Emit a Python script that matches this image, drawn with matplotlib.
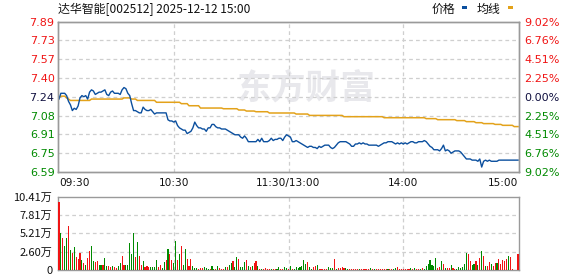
import numpy as np
import matplotlib
matplotlib.use("Agg")
import matplotlib.pyplot as plt
from matplotlib.patches import Rectangle

plt.rcParams['font.family'] = ['Noto Sans CJK SC', 'DejaVu Sans']

# ---------------- data ----------------
title = "达华智能[002512] 2025-12-12 15:00"
legend_labels = ["价格", "均线"]
watermark = "东方财富"
prev_close = 7.24
price_tick_labels = ["6.59", "6.75", "6.91", "7.08", "7.24", "7.40", "7.57", "7.73", "7.89"]
pct_values = [-9.02, -6.76, -4.51, -2.25, 0.00, 2.25, 4.51, 6.76, 9.02]
pct_tick_labels = ["9.02%", "6.76%", "4.51%", "2.25%", "0.00%", "2.25%", "4.51%", "6.76%", "9.02%"]
vol_max = 10.41
vol_tick_labels = ["0", "2.60万", "5.21万", "7.81万", "10.41万"]
time_labels = ["09:30", "10:30", "11:30/13:00", "14:00", "15:00"]
time_minutes = [0, 60, 120, 180, 240]

price = [
    7.22, 7.27, 7.27, 7.27, 7.25, 7.20, 7.17, 7.12, 7.14, 7.13,
    7.16, 7.23, 7.25, 7.24, 7.25, 7.22, 7.28, 7.30, 7.29, 7.26,
    7.27, 7.28, 7.28, 7.29, 7.30, 7.26, 7.25, 7.28, 7.29, 7.27,
    7.27, 7.27, 7.26, 7.30, 7.32, 7.31, 7.27, 7.25, 7.18, 7.12,
    7.12, 7.11, 7.10, 7.10, 7.15, 7.13, 7.12, 7.12, 7.13, 7.11,
    7.09, 7.10, 7.10, 7.10, 7.10, 7.10, 7.10, 7.04, 7.03, 7.03,
    7.02, 7.03, 6.99, 6.97, 6.96, 6.95, 6.95, 6.92, 6.93, 6.94,
    6.97, 7.02, 6.99, 6.97, 6.97, 6.96, 6.96, 6.94, 6.97, 6.97,
    7.00, 7.00, 6.98, 6.97, 6.97, 6.96, 6.96, 6.96, 6.95, 6.94,
    6.93, 6.92, 6.91, 6.91, 6.91, 6.89, 6.88, 6.90, 6.88, 6.85,
    6.85, 6.85, 6.85, 6.85, 6.87, 6.85, 6.88, 6.85, 6.85, 6.85,
    6.86, 6.88, 6.86, 6.87, 6.87, 6.88, 6.88, 6.86, 6.89, 6.91,
    6.90, 6.89, 6.85, 6.85, 6.86, 6.85, 6.84, 6.83, 6.82, 6.81,
    6.80, 6.81, 6.81, 6.80, 6.80, 6.79, 6.81, 6.80, 6.81, 6.82,
    6.82, 6.82, 6.80, 6.79, 6.80, 6.82, 6.84, 6.85, 6.85, 6.85,
    6.85, 6.84, 6.83, 6.81, 6.81, 6.83, 6.83, 6.84, 6.83, 6.84,
    6.83, 6.83, 6.82, 6.82, 6.82, 6.82, 6.82, 6.81, 6.82, 6.83,
    6.84, 6.84, 6.85, 6.85, 6.85, 6.84, 6.83, 6.84, 6.83, 6.84,
    6.83, 6.84, 6.83, 6.84, 6.85, 6.85, 6.84, 6.84, 6.85, 6.85,
    6.85, 6.86, 6.85, 6.83, 6.81, 6.80, 6.78, 6.78, 6.78, 6.77,
    6.79, 6.82, 6.77, 6.78, 6.77, 6.75, 6.76, 6.77, 6.77, 6.77,
    6.76, 6.74, 6.72, 6.70, 6.70, 6.70, 6.69, 6.69, 6.69, 6.68,
    6.70, 6.63, 6.68, 6.69, 6.68, 6.69, 6.68, 6.68, 6.68, 6.68,
    6.69, 6.69, 6.69, 6.69, 6.69, 6.69, 6.69, 6.69, 6.69, 6.69, 6.69,
]

avg_price = [
    7.230, 7.245, 7.245, 7.245, 7.230, 7.220, 7.208, 7.208, 7.208, 7.208,
    7.208, 7.208, 7.208, 7.208, 7.208, 7.208, 7.208, 7.220, 7.220, 7.220,
    7.220, 7.220, 7.220, 7.220, 7.220, 7.220, 7.220, 7.220, 7.220, 7.220,
    7.220, 7.220, 7.220, 7.220, 7.230, 7.230, 7.230, 7.230, 7.220, 7.220,
    7.220, 7.208, 7.208, 7.208, 7.208, 7.208, 7.208, 7.208, 7.208, 7.208,
    7.208, 7.192, 7.192, 7.192, 7.192, 7.192, 7.192, 7.192, 7.192, 7.192,
    7.192, 7.192, 7.192, 7.192, 7.180, 7.180, 7.180, 7.180, 7.162, 7.162,
    7.162, 7.162, 7.162, 7.162, 7.142, 7.142, 7.142, 7.142, 7.142, 7.142,
    7.142, 7.142, 7.142, 7.142, 7.142, 7.142, 7.136, 7.136, 7.136, 7.136,
    7.136, 7.136, 7.136, 7.136, 7.125, 7.125, 7.125, 7.125, 7.116, 7.116,
    7.116, 7.116, 7.116, 7.110, 7.110, 7.110, 7.110, 7.110, 7.110, 7.110,
    7.099, 7.099, 7.099, 7.099, 7.099, 7.099, 7.099, 7.099, 7.099, 7.099,
    7.099, 7.099, 7.099, 7.099, 7.090, 7.090, 7.090, 7.090, 7.090, 7.090,
    7.090, 7.078, 7.078, 7.078, 7.078, 7.078, 7.078, 7.078, 7.078, 7.078,
    7.078, 7.078, 7.078, 7.078, 7.078, 7.078, 7.078, 7.078, 7.078, 7.067,
    7.067, 7.067, 7.067, 7.067, 7.067, 7.067, 7.067, 7.067, 7.067, 7.067,
    7.067, 7.067, 7.067, 7.067, 7.067, 7.067, 7.067, 7.067, 7.067, 7.067,
    7.058, 7.058, 7.058, 7.058, 7.058, 7.058, 7.058, 7.058, 7.058, 7.058,
    7.058, 7.058, 7.058, 7.058, 7.058, 7.058, 7.058, 7.058, 7.058, 7.058,
    7.058, 7.058, 7.050, 7.050, 7.050, 7.050, 7.050, 7.050, 7.041, 7.041,
    7.041, 7.041, 7.041, 7.041, 7.041, 7.041, 7.041, 7.041, 7.033, 7.033,
    7.033, 7.033, 7.033, 7.024, 7.024, 7.024, 7.024, 7.024, 7.015, 7.015,
    7.015, 7.015, 7.007, 7.007, 7.007, 7.007, 7.007, 7.007, 7.000, 7.000,
    7.000, 7.000, 6.992, 6.992, 6.992, 6.992, 6.992, 6.992, 6.981, 6.981, 6.981,
]

# volume in 万 (one bar per minute)
volume = [
    9.66, 5.26, 4.55, 3.41, 4.55, 6.26, 2.84, 2.42, 3.27, 1.85,
    1.56, 2.42, 1.42, 1.00, 0.71, 1.71, 2.70, 3.41, 1.28, 1.14,
    1.28, 0.71, 0.71, 0.71, 1.71, 0.57, 0.57, 0.43, 0.57, 0.43,
    0.28, 0.57, 1.00, 1.99, 0.71, 0.71, 0.71, 3.84, 2.27, 5.26,
    1.85, 3.98, 1.99, 0.71, 1.28, 0.43, 0.57, 0.43, 0.43, 0.43,
    0.43, 1.42, 0.43, 0.71, 0.28, 1.14, 1.42, 2.99, 2.27, 1.42,
    1.00, 4.12, 1.42, 2.27, 3.41, 0.71, 2.99, 1.56, 0.57, 1.56,
    0.57, 0.28, 0.28, 0.14, 0.28, 0.28, 0.43, 0.28, 0.14,
    0.14, 0.57, 0.14, 0.14, 0.57, 0.28, 0.14, 0.14, 0.43, 0.43,
    0.71, 1.00, 1.28, 0.43, 1.85, 1.56, 0.43, 0.43, 1.14, 1.42,
    0.57, 0.43, 0.57, 1.00, 1.28, 0.57, 0.14, 0.14, 0.14, 0.28,
    0.14, 0.14, 0.14, 0.14, 0.14, 0.14, 0.43, 0.14, 0.14, 0.43,
    0.28, 0.14, 0.57, 0.14, 0.14, 0.43, 0.28, 0.43, 0.57, 1.42,
    0.85, 1.14, 0.43, 0.14, 0.43, 0.57, 0.71, 0.14, 0.14, 0.14,
    0.14, 0.14, 0.43, 0.28, 0.28, 1.56, 0.14, 0.28, 0.28, 0.43,
    0.28, 0.28, 0.14, 0.14, 0.14, 0.14, 0.14, 0.14, 0.14, 0.14,
    0.14, 0.14, 0.14, 0.14, 0.28, 0.14, 0.14, 0.14, 0.14, 0.14,
    0.14, 0.14, 0.14, 0.14, 0.14, 0.14, 0.14, 0.28, 0.43, 0.14,
    0.14, 0.14, 0.14,
    0.14, 0.14, 0.28, 0.14, 0.28, 0.14, 0.14, 0.14, 0.28, 0.14,
    0.57, 0.85, 1.42, 0.71, 0.57, 1.71, 0.28, 0.43, 1.28, 0.85,
    0.28, 0.28, 0.28, 0.71, 0.28, 0.14, 0.14, 0.43, 0.28, 0.43,
    0.85, 2.42, 2.27, 1.28, 0.71, 0.85, 1.28, 0.71, 1.71, 2.70,
    1.99, 0.57, 0.57, 1.14, 0.85, 0.57, 1.00, 1.00, 1.56, 0.85,
    1.42, 1.28, 1.56, 1.99, 1.85, 0.14,
    0.00, 0.00, 2.27,
]
# R = up (red), G = down (green)
volume_dir = (
    "RGRGGRGRGR" "RRGRGRRGGR" "RGGRGGRRGR" "RGGRRGGGGG"
    "RGRRGRRRGG" "GGRRGGRGRR" "GGRGRGGRRR" "GGGRRRGGG"
    "RGGRGRRRGR" "GGRGGRGGGR" "GRGRRGRGRR" "RRGRRGGRRG"
    "GRGRGGGGGG" "GRGGRRGRRR" "RRGGGRGRRR" "RGGRRRRRGR"
    "RRRRGRGRRR" "R" "RRGRRGGRRRR" "R"
    "RRGRGRRGRGGGGGGGRRGRGRRGRRGGGGGGRRGGRGRGRGRRGRRGRRRRRGRR"
    "RRR"
)

# ---------------- drawing ----------------
W, H = 578, 276
fig = plt.figure(figsize=(W / 100, H / 100), dpi=100)
fig.patch.set_facecolor("white")

ax = fig.add_axes([58 / W, 1 - 172 / H, 461 / W, 150.5 / H])
vax = fig.add_axes([58 / W, 1 - 270 / H, 461 / W, 73.5 / H])

blue = "#0b4f9e"
gold = "#e3a21a"
red = "#f01414"
green = "#008a00"
grid_c = "#cfcfcf"
spine_c = "#9a9a9a"
num_font = "DejaVu Sans"

minutes = np.arange(len(price))
pct = np.array(pct_values) / 100.0
price_tick_pos = prev_close * (1 + pct)
ylo, yhi = price_tick_pos[0], price_tick_pos[-1]

# watermark
ax.text(0.54, 0.56, watermark, transform=ax.transAxes, ha="center", va="center",
        fontsize=25, fontweight="bold", color="#e8e8ec", zorder=0.5)

for yv in price_tick_pos[1:-1]:
    ax.axhline(yv, color=grid_c, lw=0.9, ls=(0, (3, 2.5)), zorder=1)
for xv in time_minutes[1:-1]:
    ax.axvline(xv, color=grid_c, lw=0.9, ls=(0, (3, 2.5)), zorder=1)
    vax.axvline(xv, color=grid_c, lw=0.9, ls=(0, (3, 2.5)), zorder=1)

ax.plot(minutes, avg_price, color=gold, lw=1.1, zorder=3, solid_joinstyle="miter")
ax.plot(minutes, price, color=blue, lw=1.0, zorder=4)

ax.set_xlim(-0.5, 240.5)
ax.set_ylim(ylo, yhi)
ax.set_yticks(price_tick_pos)
ax.set_yticklabels(price_tick_labels, fontsize=8, family=num_font)
for lab, p in zip(ax.get_yticklabels(), pct_values):
    lab.set_color(red if p > 0 else (green if p < 0 else "#101040"))

ax.set_xticks(time_minutes)
ax.set_xticklabels(time_labels, fontsize=7.6, family=num_font, color="#111111")
xl = ax.get_xticklabels()
xl[0].set_ha("left")
xl[-1].set_ha("right")
ax.tick_params(axis="both", length=0)
ax.tick_params(axis="y", pad=2.5)
ax.tick_params(axis="x", pad=4)

rax = ax.twinx()
rax.set_ylim(ylo, yhi)
rax.set_yticks(price_tick_pos)
rax.set_yticklabels(pct_tick_labels, fontsize=8, family=num_font)
for lab, p in zip(rax.get_yticklabels(), pct_values):
    lab.set_color(red if p > 0 else (green if p < 0 else "#101040"))
rax.tick_params(axis="y", length=0, pad=4)

for a in (ax, rax, vax):
    for s in a.spines.values():
        s.set_color(spine_c)
        s.set_linewidth(1.0)

# volume
vol_tick_pos = np.linspace(0, vol_max, len(vol_tick_labels))
for yv in vol_tick_pos[1:-1]:
    vax.axhline(yv, color=grid_c, lw=0.9, ls=(0, (3, 2.5)), zorder=1)
bar_colors = [red if d == "R" else green for d in volume_dir]
vax.bar(np.arange(len(volume)), volume, width=0.58, color=bar_colors, zorder=3, linewidth=0)
vax.set_xlim(-0.5, 240.5)
vax.set_ylim(0, vol_max)
vax.set_xticks([])
vax.set_yticks(vol_tick_pos)
vax.set_yticklabels(vol_tick_labels, fontsize=8, color="#111111")
vax.tick_params(axis="y", length=0, pad=4)

# title and legend
fig.text(58 / W, 1 - 9.5 / H, title, fontsize=8.6, ha="left", va="center", color="#111111")
fig.text(432 / W, 1 - 9.5 / H, legend_labels[0], fontsize=8.6, ha="left", va="center", color="#111111")
fig.text(477 / W, 1 - 9.5 / H, legend_labels[1], fontsize=8.6, ha="left", va="center", color="#111111")
fig.patches.append(Rectangle((462 / W, 1 - 8.5 / H), 5 / W, 2.5 / H, transform=fig.transFigure,
                             facecolor=blue, edgecolor="none"))
fig.patches.append(Rectangle((508 / W, 1 - 8.5 / H), 5 / W, 2.5 / H, transform=fig.transFigure,
                             facecolor=gold, edgecolor="none"))

fig.savefig("out.png", dpi=100)
